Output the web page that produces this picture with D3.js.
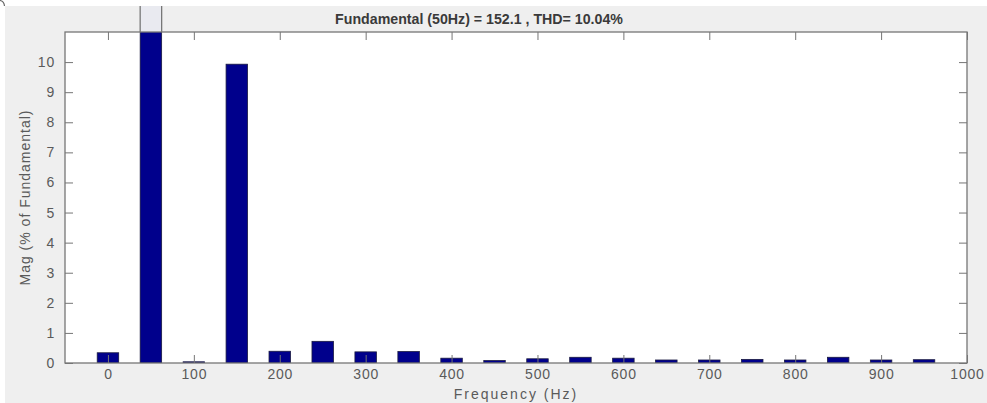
<!DOCTYPE html>
<html>
<head>
<meta charset="utf-8">
<script src="https://cdn.jsdelivr.net/npm/d3@7"></script>
<style>
  html, body { margin: 0; padding: 0; background: #ffffff; }
  svg { display: block; }
  text { font-family: "Liberation Sans", Arial, sans-serif; }
</style>
</head>
<body>
<svg id="chart" width="987" height="403"></svg>
<script>
// Harmonic spectrum: frequency (Hz) and magnitude (% of fundamental)
const frequencies = [0, 50, 100, 150, 200, 250, 300, 350, 400, 450, 500, 550, 600, 650, 700, 750, 800, 850, 900, 950];
const magnitudes  = [0.34, 100, 0.04, 9.93, 0.39, 0.72, 0.37, 0.38, 0.16, 0.08, 0.14, 0.19, 0.16, 0.10, 0.10, 0.12, 0.10, 0.19, 0.10, 0.11];
const xTicks = [0, 100, 200, 300, 400, 500, 600, 700, 800, 900, 1000];
const yTicks = [0, 1, 2, 3, 4, 5, 6, 7, 8, 9, 10];
const titleText = "Fundamental (50Hz) = 152.1 , THD= 10.04%";
const xLabel = "Frequency (Hz)";
const yLabel = "Mag (% of Fundamental)";

const W = 987, H = 403;
const plot = { left: 65, right: 967, top: 32, bottom: 363 };
const barWidthHz = 25;

const svg = d3.select("#chart");

// figure background
svg.append("rect").attr("x", 5).attr("y", 6).attr("width", W - 5).attr("height", H - 6)
  .attr("fill", "#efefef");
svg.append("path").attr("d", "M0,0.5 Q4,1 4.5,6").attr("fill", "none")
  .attr("stroke", "#666").attr("stroke-width", 1.2);

const x = d3.scaleLinear().domain([-50, 1000]).range([plot.left, plot.right]);
const y = d3.scaleLinear().domain([0, 11]).range([plot.bottom, plot.top]);

// axes area
svg.append("rect").attr("x", plot.left).attr("y", plot.top)
  .attr("width", plot.right - plot.left).attr("height", plot.bottom - plot.top)
  .attr("fill", "#ffffff");

svg.append("clipPath").attr("id", "plotClip").append("rect")
  .attr("x", plot.left).attr("y", plot.top)
  .attr("width", plot.right - plot.left).attr("height", plot.bottom - plot.top);

const data = frequencies.map((f, i) => ({ f, v: magnitudes[i] }));

// outline of the clipped fundamental bar above the axes
data.filter(d => y(d.v) < plot.top).forEach(d => {
  const x0 = x(d.f - barWidthHz / 2), x1 = x(d.f + barWidthHz / 2);
  svg.append("rect").attr("x", x0).attr("y", 6).attr("width", x1 - x0).attr("height", plot.top - 6)
    .attr("fill", "#e9eaf0");
  svg.append("line").attr("x1", x0).attr("x2", x0).attr("y1", 6).attr("y2", plot.top)
    .attr("stroke", "#777").attr("stroke-width", 1.3);
  svg.append("line").attr("x1", x1).attr("x2", x1).attr("y1", 6).attr("y2", plot.top)
    .attr("stroke", "#777").attr("stroke-width", 1.3);
});

// bars
svg.append("g").attr("clip-path", "url(#plotClip)")
  .selectAll("rect").data(data).join("rect")
  .attr("x", d => x(d.f - barWidthHz / 2))
  .attr("width", d => x(d.f + barWidthHz / 2) - x(d.f - barWidthHz / 2))
  .attr("y", d => y(d.v))
  .attr("height", d => y(0) - y(d.v))
  .attr("fill", "#00008c")
  .attr("stroke", "#1a1a40")
  .attr("stroke-width", 0.8);

// axes with inward ticks (box style)
const axisColor = "#767676";
const tickLen = 8;
function styleAxis(g) {
  g.select(".domain").remove();
  g.selectAll(".tick line").attr("stroke", axisColor).attr("stroke-width", 1);
  g.selectAll(".tick text").attr("fill", "#5a5a5a").attr("font-size", 14).attr("letter-spacing", 0.8);
}

svg.append("g").attr("transform", `translate(0,${plot.bottom})`)
  .call(d3.axisBottom(x).tickValues(xTicks).tickSize(-tickLen).tickPadding(6).tickFormat(d3.format("d")))
  .call(styleAxis);
svg.append("g").attr("transform", `translate(0,${plot.top})`)
  .call(d3.axisTop(x).tickValues(xTicks).tickSize(-tickLen).tickFormat(""))
  .call(styleAxis);
svg.append("g").attr("transform", `translate(${plot.left},0)`)
  .call(d3.axisLeft(y).tickValues(yTicks).tickSize(-tickLen).tickPadding(10).tickFormat(d3.format("d")))
  .call(styleAxis);
svg.append("g").attr("transform", `translate(${plot.right},0)`)
  .call(d3.axisRight(y).tickValues(yTicks).tickSize(-tickLen).tickFormat(""))
  .call(styleAxis);

// axes box
svg.append("rect").attr("x", plot.left).attr("y", plot.top)
  .attr("width", plot.right - plot.left).attr("height", plot.bottom - plot.top)
  .attr("fill", "none").attr("stroke", axisColor).attr("stroke-width", 1.3);

// labels
svg.append("text").attr("x", 479).attr("y", 24).attr("text-anchor", "middle")
  .attr("font-size", 14.2).attr("font-weight", "bold").attr("fill", "#3a3a3a").text(titleText);
svg.append("text").attr("x", 516).attr("y", 399).attr("text-anchor", "middle")
  .attr("font-size", 14).attr("letter-spacing", 2).attr("fill", "#5a5a5a").text(xLabel);
svg.append("text").attr("transform", `translate(30,${(plot.top + plot.bottom) / 2}) rotate(-90)`)
  .attr("text-anchor", "middle").attr("font-size", 14).attr("letter-spacing", 1).attr("fill", "#5a5a5a").text(yLabel);
</script>
</body>
</html>
